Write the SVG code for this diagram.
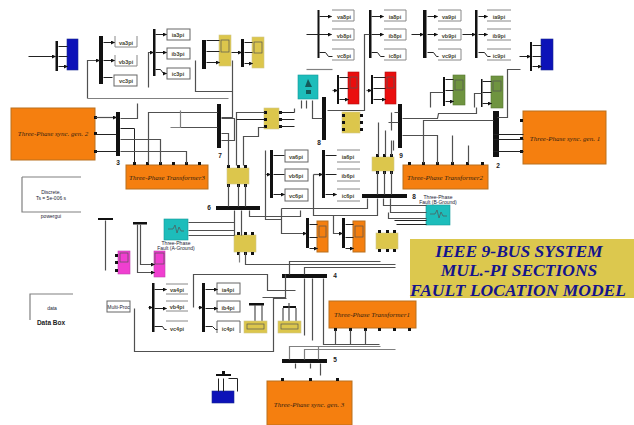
<svg xmlns="http://www.w3.org/2000/svg" width="634" height="425" viewBox="0 0 634 425">
<style>
.c{fill:none;stroke:#505050;stroke-width:1.2}
.d{fill:none;stroke:#222;stroke-width:1}
.l{fill:none;stroke:#808080;stroke-width:1.2}
.bar{fill:#111}
.blk{fill:#fff;stroke:#666;stroke-width:1}
.opn{fill:none;stroke:#888;stroke-width:1}
.or{fill:#f57f0f;stroke:#b9701e;stroke-width:1}
.ye{fill:#dcc64c;stroke:#cfc58a;stroke-width:.6}
.gr{fill:#6f9440;stroke:#55752f;stroke-width:.6}
.rd{fill:#ea0e0e;stroke:#b01010;stroke-width:.6}
.bl{fill:#0d12b8;stroke:#1a2a90;stroke-width:.6}
.pk{fill:#f03fd0;stroke:#c040b0;stroke-width:.6}
.te{fill:#1dbdbb;stroke:#139a9a;stroke-width:.6}
.in{fill:none;stroke:#555;stroke-width:.7}
.pt{fill:#111}
text{font-family:"Liberation Sans",Arial,sans-serif}
.t{font-size:5.5px;font-weight:bold;fill:#443;text-anchor:middle}
.o{font-family:"Liberation Serif","Times New Roman",serif;font-size:7px;font-style:italic;fill:#321;text-anchor:middle}
.n{font-size:6.5px;font-weight:bold;fill:#222;text-anchor:middle}
.s{font-size:5px;fill:#223;text-anchor:middle}
.h{font-family:"Liberation Serif","Times New Roman",serif;font-size:17.5px;font-weight:bold;font-style:italic;fill:#14148c;text-anchor:middle}
</style>
<defs>
<marker id="a" markerWidth="4" markerHeight="4" refX="3.5" refY="2" orient="auto" markerUnits="userSpaceOnUse"><path d="M0 0L4 2L0 4z" fill="#111"/></marker>
</defs>
<rect width="634" height="425" fill="#fff"/>
<g id="node-blue1"><rect class="bar" x="55.5" y="41" width="2.5" height="30"/><rect class="bl" x="67" y="39" width="11" height="31"/></g>
<g id="node-goto-a">
<rect class="bar" x="99" y="36" width="4" height="48"/>
<path class="opn" d="M115 36V47H137V36M115 55V66H137V55"/><rect class="blk" x="114" y="75" width="23" height="11"/>
<text class="t" x="126" y="45">va3pi</text><text class="t" x="126" y="64">vb3pi</text><text class="t" x="126" y="83">vc3pi</text>
</g>
<g id="node-goto-b">
<rect class="bar" x="153" y="29" width="2.5" height="47"/>
<rect class="blk" x="167" y="29" width="23" height="11"/><rect class="blk" x="167" y="48" width="23" height="11"/><rect class="blk" x="167" y="68" width="23" height="11"/>
<text class="t" x="178" y="37">ia3pi</text><text class="t" x="178" y="56">ib3pi</text><text class="t" x="178" y="76">ic3pi</text>
</g>
<g id="node-scope-y1"><rect class="bar" x="202" y="40" width="4" height="29"/><rect class="ye" x="219" y="35" width="12" height="31"/><rect class="in" x="221" y="40" width="8" height="12"/></g>
<g id="node-scope-y2"><rect class="bar" x="241" y="39" width="3" height="28"/><rect class="ye" x="252" y="37" width="12" height="31"/><rect class="in" x="254" y="42" width="8" height="11"/></g>
<g id="node-gen2"><rect class="or" x="11" y="108" width="84" height="52"/><text class="o" x="53" y="136">Three-Phase sync. gen. 2</text><path class="pt" d="M94 116h3v3h-3zM94 132h3v3h-3zM94 150h3v3h-3z"/></g>
<g id="node-bus3"><rect class="bar" x="116" y="112" width="4" height="44"/><text class="n" x="118" y="165">3</text></g>
<g id="node-t3"><rect class="or" x="126" y="165" width="82" height="24"/><text class="o" x="167" y="180">Three-Phase Transformer3</text><path class="pt" d="M133 162h3v3h-3zM146 162h3v3h-3zM159 162h3v3h-3zM172 162h3v3h-3zM185 162h3v3h-3zM198 162h3v3h-3z"/></g>
<g id="node-bus7"><rect class="bar" x="217" y="104" width="4" height="44"/><text class="n" x="220" y="158">7</text></g>
<g id="node-brk1"><rect class="ye" x="264" y="108" width="15" height="21"/><path class="pt" d="M264 111h3v3h-3zM264 118h3v3h-3zM264 125h3v3h-3zM279 111h3v3h-3zM279 118h3v3h-3zM279 125h3v3h-3z"/></g>
<g id="node-brk2"><rect class="ye" x="227" y="168" width="22" height="16"/><path class="pt" d="M227 165h3v3h-3zM237 165h3v3h-3zM244 165h3v3h-3zM227 184h3v3h-3zM237 184h3v3h-3zM244 184h3v3h-3z"/></g>
<g id="node-bus6"><rect class="bar" x="216" y="206" width="44" height="4"/><text class="n" x="209" y="210">6</text></g>
<g id="node-meas"><rect class="te" x="298" y="75" width="20" height="24"/><path fill="#145a5a" d="M305 87l3-8 4 8zM306 90h5v4h-5z"/></g>
<g id="node-bus8"><rect class="bar" x="322" y="97" width="4" height="43"/><text class="n" x="319" y="145">8</text></g>
<g id="node-y3"><rect class="ye" x="342" y="112" width="18" height="21"/><path class="pt" d="M342 114h3v3h-3zM342 121h3v3h-3zM342 128h3v3h-3zM360 114h3v3h-3zM360 121h3v3h-3zM360 128h3v3h-3z"/></g>
<g id="node-goto-c">
<rect class="bar" x="317.500" y="10" width="2" height="48"/>
<path class="opn" d="M332 10H354V21H332M332 29H354V40H332M332 49H354V60H332"/>
<text class="t" x="344" y="19">va8pi</text><text class="t" x="344" y="38">vb8pi</text><text class="t" x="344" y="58">vc8pi</text>
</g>
<g id="node-goto-d">
<rect class="bar" x="369" y="10" width="2.500" height="48"/>
<path class="opn" d="M384 10H406V21H384M384 29H406V40H384M384 49H406V60H384"/>
<text class="t" x="395" y="19">ia8pi</text><text class="t" x="395" y="38">ib8pi</text><text class="t" x="395" y="58">ic8pi</text>
</g>
<g id="node-goto-e">
<rect class="bar" x="423" y="10" width="3.500" height="48"/>
<path class="opn" d="M438 10H461V21H438M438 29H461V40H438M438 49H461V60H438"/>
<text class="t" x="449" y="19">va9pi</text><text class="t" x="449" y="38">vb9pi</text><text class="t" x="449" y="58">vc9pi</text>
</g>
<g id="node-goto-f">
<rect class="bar" x="475" y="10" width="2.500" height="48"/>
<path class="opn" d="M487 10H511M487 21H511M487 29H511M487 40H511M487 49H511M487 60H511"/>
<text class="t" x="499" y="19">ia9pi</text><text class="t" x="499" y="38">ib9pi</text><text class="t" x="499" y="58">ic9pi</text>
</g>
<g id="node-blue2"><rect class="bar" x="530" y="42" width="2" height="29"/><rect class="bl" x="541" y="39" width="12" height="31"/></g>
<g id="node-red1"><rect class="bar" x="337" y="75" width="2" height="29"/><rect class="rd" x="348" y="72" width="11" height="32"/><rect class="in" x="350" y="77" width="7" height="11"/></g>
<g id="node-red2"><rect class="bar" x="371" y="75" width="2" height="29"/><rect class="rd" x="385" y="72" width="11" height="32"/><rect class="in" x="387" y="77" width="7" height="11"/></g>
<g id="node-green1"><rect class="bar" x="443" y="77" width="2" height="29"/><rect class="gr" x="453" y="75" width="12" height="30"/><rect class="in" x="455" y="80" width="8" height="10"/></g>
<g id="node-green2"><rect class="bar" x="481" y="79" width="1.500" height="28"/><rect class="gr" x="491" y="76" width="12" height="32"/><rect class="in" x="493" y="81" width="8" height="10"/></g>
<g id="node-bus9"><rect class="bar" x="398" y="104" width="4" height="44"/><text class="n" x="401" y="158">9</text></g>
<g id="node-bus2"><rect class="bar" x="493" y="111" width="6" height="46"/><text class="n" x="498" y="168">2</text></g>
<g id="node-gen1"><rect class="or" x="523" y="111" width="83" height="53"/><text class="o" x="565" y="141">Three-Phase sync. gen. 1</text><path class="pt" d="M520 119h3v3h-3zM520 137h3v3h-3zM520 150h3v3h-3z"/></g>
<g id="node-t2"><rect class="or" x="403" y="165" width="85" height="24"/><text class="o" x="445" y="180">Three-Phase Transformer2</text><path class="pt" d="M408 162h3v3h-3zM422 162h3v3h-3zM436 162h3v3h-3zM451 162h3v3h-3zM466 162h3v3h-3zM481 162h3v3h-3z"/></g>
<g id="node-brk3"><rect class="ye" x="372" y="157" width="22" height="14"/><path class="pt" d="M376 154h3v3h-3zM383 154h3v3h-3zM390 154h3v3h-3zM376 171h3v3h-3zM383 171h3v3h-3zM390 171h3v3h-3z"/></g>
<g id="node-busb"><rect class="bar" x="362" y="194" width="45" height="4"/><text class="n" x="414" y="199">8</text></g>
<g id="node-fault1"><rect class="te" x="426" y="205" width="24" height="20"/><path class="in" d="M430 214h5l2-4 2 8 2-6 2 4h4"/><text class="s" x="438" y="199">Three-Phase</text><text class="s" x="438" y="204">Fault (B-Ground)</text></g>
<g id="node-goto-g">
<rect class="bar" x="270" y="150" width="3" height="48"/>
<rect class="blk" x="285" y="150" width="23" height="12"/><rect class="blk" x="285" y="169" width="23" height="12"/><rect class="blk" x="285" y="189" width="23" height="12"/>
<text class="t" x="296" y="159">va6pi</text><text class="t" x="296" y="178">vb6pi</text><text class="t" x="296" y="198">vc6pi</text>
</g>
<g id="node-goto-h">
<rect class="bar" x="322" y="150" width="3" height="48"/>
<path class="opn" d="M337 150H360M337 162H360M337 169H360M337 181H360M337 189H360M337 201H360"/>
<text class="t" x="348" y="159">ia6pi</text><text class="t" x="348" y="178">ib6pi</text><text class="t" x="348" y="198">ic6pi</text>
</g>
<g id="node-or1"><rect class="bar" x="306" y="218" width="3" height="30"/><rect class="or" x="317" y="221" width="11" height="31"/><rect class="in" x="319" y="226" width="7" height="11"/></g>
<g id="node-or2"><rect class="bar" x="342" y="218" width="3" height="30"/><rect class="or" x="353" y="221" width="12" height="31"/><rect class="in" x="355" y="226" width="8" height="11"/></g>
<g id="node-y4"><rect class="ye" x="376" y="233" width="22" height="16"/><path class="pt" d="M378 230h3v3h-3zM386 230h3v3h-3zM393 230h3v3h-3zM378 249h3v3h-3zM386 249h3v3h-3zM393 249h3v3h-3z"/></g>
<g id="node-brk4"><rect class="ye" x="234" y="235" width="22" height="17"/><path class="pt" d="M237 232h3v3h-3zM244 232h3v3h-3zM251 232h3v3h-3zM237 252h3v3h-3zM244 252h3v3h-3zM251 252h3v3h-3z"/></g>
<g id="node-bus4"><rect class="bar" x="282" y="274" width="45" height="4"/><text class="n" x="335" y="278">4</text></g>
<g id="node-t1"><rect class="or" x="329" y="301" width="87" height="27"/><text class="o" x="372" y="317">Three-Phase Transformer1</text><path class="pt" d="M334 328h3v3h-3zM349 328h3v3h-3zM364 328h3v3h-3zM378 328h3v3h-3zM393 328h3v3h-3zM408 328h3v3h-3z"/></g>
<g id="node-bus5"><rect class="bar" x="282" y="359" width="45" height="4"/><text class="n" x="335" y="362">5</text></g>
<g id="node-gen3"><rect class="or" x="267" y="381" width="85" height="44"/><text class="o" x="309" y="407">Three-Phase sync. gen. 3</text><path class="pt" d="M281 378h3v3h-3zM309 378h3v3h-3zM336 378h3v3h-3z"/></g>
<g id="node-blue3"><rect class="bl" x="212" y="391" width="22" height="12"/><rect class="bar" x="216" y="374" width="15" height="2"/><path class="pt" d="M222 371h3v3h-3z"/></g>
<g id="node-load1"><rect class="bar" x="249" y="303" width="15" height="2.500"/><path class="c" d="M255 305V321M262 305V321"/><rect class="ye" x="244" y="321" width="23" height="12"/><rect class="in" x="247" y="324" width="17" height="5"/></g>
<g id="node-load2"><rect class="bar" x="283" y="306" width="13" height="2"/><path class="c" d="M283 308V321M289 303V321M296 308V321"/><rect class="ye" x="278" y="321" width="23" height="12"/><rect class="in" x="281" y="324" width="17" height="5"/></g>
<g id="node-goto-i">
<rect class="bar" x="152" y="283" width="2.500" height="49"/>
<path class="opn" d="M166 284H188M166 294H188M166 301H188M166 311H188M166 321H188"/>
<text class="t" x="177" y="292">va4pi</text><text class="t" x="177" y="309">vb4pi</text><text class="t" x="177" y="331">vc4pi</text>
</g>
<g id="node-goto-j">
<rect class="bar" x="202" y="283" width="3" height="49"/>
<rect class="blk" x="217" y="283" width="23" height="11"/><rect class="blk" x="217" y="301" width="23" height="11"/><path class="blk" d="M217 333V321H240V333"/>
<text class="t" x="228" y="292">ia4pi</text><text class="t" x="228" y="310">ib4pi</text><text class="t" x="228" y="331">ic4pi</text>
</g>
<g id="node-bus-a"><rect class="bar" x="98" y="218" width="15" height="2"/></g>
<g id="node-bus-b"><rect class="bar" x="133" y="222" width="14" height="2.500"/></g>
<g id="node-pink1"><rect class="pk" x="118" y="251" width="12" height="23"/><rect class="in" x="120" y="253" width="8" height="9"/><path class="pt" d="M115 254h3v3h-3zM115 261h3v3h-3zM115 269h3v3h-3z"/></g>
<g id="node-pink2"><rect class="pk" x="154" y="251" width="11" height="26"/><rect class="in" x="155" y="253" width="9" height="11"/></g>
<g id="node-fault2"><rect class="te" x="164" y="219" width="24" height="21"/><path class="in" d="M168 229h5l2-4 2 8 2-6 2 4h3"/><text class="s" x="176" y="245">Three-Phase</text><text class="s" x="176" y="250">Fault (A-Ground)</text></g>
<g id="node-powergui"><path class="l" d="M22 177H81M22 177V212H81"/><text class="s" x="51" y="194" fill="#139">Discrete,</text><text class="s" x="51" y="200" fill="#139">Ts = 5e-006 s</text><text class="s" x="51" y="218">powergui</text></g>
<g id="node-data"><path class="l" d="M30 320V294H73"/><text class="s" x="52" y="310">data</text><text class="n" x="51" y="325">Data Box</text></g>
<g id="node-multi"><rect class="blk" x="107" y="301" width="23" height="11"/><text class="s" x="118.500" y="308.500">Multi-Proc</text></g>
<g id="connectors" transform="translate(.5 .5)">
<path class="d" marker-end="url(#a)" d="M28 56H55"/>
<path class="d" marker-end="url(#a)" d="M58 46H67M58 56H67M58 66H67"/>
<path class="c" marker-end="url(#a)" d="M87 98V60H99"/>
<path class="l" d="M87 98H228"/>
<path class="d" marker-end="url(#a)" d="M103 42H114"/>
<path class="d" marker-end="url(#a)" d="M103 60H114"/>
<path class="d" d="M103 77H112"/>
<path class="c" marker-end="url(#a)" d="M148 87V52H153"/>
<path class="d" marker-end="url(#a)" d="M155 34H166"/>
<path class="d" marker-end="url(#a)" d="M155 52H166"/>
<path class="d" marker-end="url(#a)" d="M155 69H160L163 73H166"/>
<path class="d" marker-end="url(#a)" d="M206 40H219M206 51H219M206 62H219"/>
<path class="c" d="M195 60V91H232"/>
<path class="d" marker-end="url(#a)" d="M231 52H241"/>
<path class="d" marker-end="url(#a)" d="M244 42H252M244 52H252M244 63H252"/>
<path class="c" d="M232 60V117H221"/>
<path class="c" marker-end="url(#a)" d="M95 117H116"/>
<path class="d" d="M95 134H116M95 151H116"/>
<path class="c" d="M120 118H137V103"/>
<path class="d" d="M120 128H134V163"/>
<path class="c" d="M120 139H160V163"/>
<path class="c" d="M120 151H186V163"/>
<path class="c" d="M148 163V112H217"/>
<path class="c" d="M174 127H217"/>
<path class="c" d="M221 118H234V140H221"/>
<path class="c" d="M221 133H228V165"/>
<path class="c" d="M236 165V112H264"/>
<path class="c" d="M243 165V136H258V127H264"/>
<path class="d" d="M236 119H264"/>
<path class="d" d="M279 112H294M279 119H294M279 126H294"/>
<path class="c" d="M294 108V112M312 100V118H322"/>
<path class="c" d="M301 100V108M306 100V108"/>
<path class="l" d="M306 69H332"/>
<path class="c" d="M327 110H364V34H369"/>
<path class="d" marker-end="url(#a)" d="M319 16H331"/>
<path class="d" marker-end="url(#a)" d="M306 34H331"/>
<path class="d" d="M319 52H325L328 56H332"/>
<path class="d" marker-end="url(#a)" d="M371 16H383"/>
<path class="d" marker-end="url(#a)" d="M371 34H383"/>
<path class="d" d="M371 52H377L380 56H384"/>
<path class="d" marker-end="url(#a)" d="M411 34H423"/>
<path class="d" marker-end="url(#a)" d="M427 16H437"/>
<path class="d" marker-end="url(#a)" d="M427 34H437"/>
<path class="d" d="M427 52H433L436 56H438"/>
<path class="d" marker-end="url(#a)" d="M462 34H475"/>
<path class="d" marker-end="url(#a)" d="M478 16H487"/>
<path class="d" marker-end="url(#a)" d="M478 34H487"/>
<path class="d" d="M478 52H484L487 56H490"/>
<path class="d" marker-end="url(#a)" d="M519 56H530"/>
<path class="d" marker-end="url(#a)" d="M532 45H541M532 56H541M532 66H541"/>
<path class="c" marker-end="url(#a)" d="M332 90H337"/>
<path class="d" marker-end="url(#a)" d="M339 77H348M339 88H348M339 99H348"/>
<path class="c" marker-end="url(#a)" d="M366 90H371"/>
<path class="d" marker-end="url(#a)" d="M373 77H385M373 88H385M373 99H385"/>
<path class="c" d="M430 107V92H443"/>
<path class="d" marker-end="url(#a)" d="M445 79H453M445 90H453M445 101H453"/>
<path class="c" d="M474 107V93H481"/>
<path class="d" marker-end="url(#a)" d="M482 81H491M482 92H491M482 103H491"/>
<path class="c" d="M402 118H437L438 113H476V107"/>
<path class="c" d="M497 117H507V69H520"/>
<path class="c" d="M423 163V120H493"/>
<path class="c" d="M402 135H437V163M452 163V135M468 163V145"/>
<path class="d" d="M493 134H523M493 139H523M493 151H523"/>
<path class="c" d="M394 112H398M391 112V130M388 122H398M393 140V150"/>
<path class="c" d="M378 122V155M385 130V155M391 140V155"/>
<path class="c" d="M377 171V194M384 171V194M391 171V194"/>
<path class="c" d="M228 184V206M238 184V206M245 184V206"/>
<path class="c" d="M234 210V235M241 210V235M249 210V216H300V210"/>
<path class="l" d="M170 127H180V110"/>
<path class="c" marker-end="url(#a)" d="M265 150V174H270"/>
<path class="d" marker-end="url(#a)" d="M273 155H284M273 174H284M273 194H284"/>
<path class="c" d="M265 174V219H281"/>
<path class="c" marker-end="url(#a)" d="M281 208H367V198M281 208V233H306"/>
<path class="c" marker-end="url(#a)" d="M313 174H322"/>
<path class="c" d="M313 174V215H377V198"/>
<path class="d" marker-end="url(#a)" d="M325 155H336M325 174H336M325 194H336"/>
<path class="c" marker-end="url(#a)" d="M333 215V233H342"/>
<path class="d" marker-end="url(#a)" d="M309 224H317M309 237H317M309 248H317"/>
<path class="d" marker-end="url(#a)" d="M345 224H353M345 237H353M345 248H353"/>
<path class="c" d="M383 198V205H426M390 198V212H426M388 212V218H426"/>
<path class="d" d="M396 224H426M394 220H426"/>
<path class="c" d="M188 222H234M188 230H234M188 235H234"/>
<path class="c" d="M245 252V264H395"/>
<path class="l" d="M239 252V262"/>
<path class="c" d="M289 274V261H380M304 274V267H395"/>
<path class="c" d="M304 278V335M312 278V340M323 278V344H379M365 344V330M350 344V330M335 344V330"/>
<path class="l" d="M289 359V346H380M304 359V349H395M318 359V346"/>
<path class="c" d="M320 363V375M295 363V368M310 363V368"/>
<path class="c" d="M193 307V274H267V290H295"/>
<path class="c" d="M134 308V351H273V298H286M273 298V321"/>
<path class="c" d="M285 274V297H262"/>
<path class="d" marker-end="url(#a)" d="M154 289H166"/>
<path class="d" marker-end="url(#a)" d="M154 308H166"/>
<path class="d" d="M154 326H162L164 329H166"/>
<path class="d" marker-end="url(#a)" d="M205 289H217"/>
<path class="d" marker-end="url(#a)" d="M205 308H217"/>
<path class="d" d="M205 326H212L215 329H217"/>
<path class="c" marker-end="url(#a)" d="M198 307H202"/>
<path class="d" marker-end="url(#a)" d="M148 307H152"/>
<path class="c" d="M105 220V270"/>
<path class="c" marker-end="url(#a)" d="M140 224V264H154"/>
<path class="c" marker-end="url(#a)" d="M137 224V272H154"/>
<path class="d" d="M228 378H237V391M223 378V391M218 378V391"/>
</g>
<g id="node-title"><rect x="410" y="239" width="224" height="59" fill="#dcc84e"/><text class="h" x="519" y="257">IEEE 9-BUS SYSTEM</text><text class="h" x="519" y="276">MUL.-PI SECTIONS</text><text class="h" x="518" y="296">FAULT LOCATION MODEL</text></g>
</svg>
